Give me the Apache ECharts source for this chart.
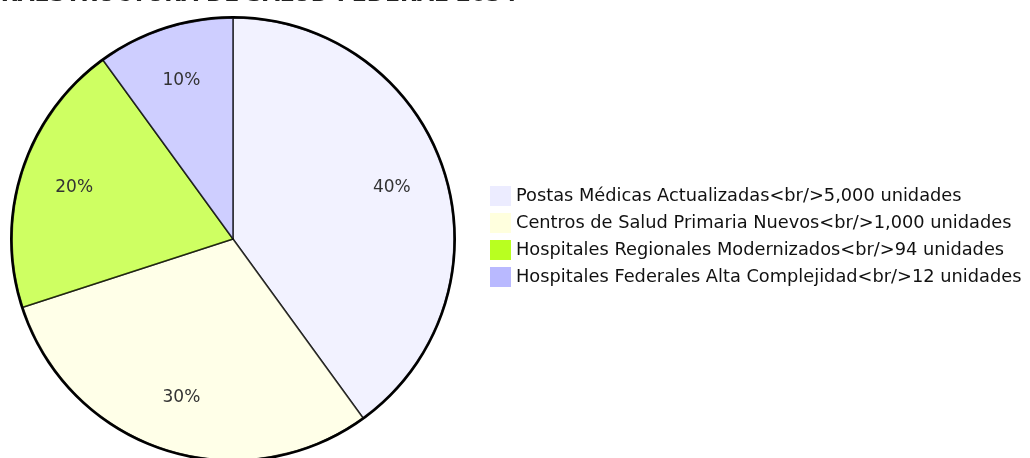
<!DOCTYPE html>
<html>
<head>
<meta charset="utf-8">
<style>
  html, body { margin: 0; padding: 0; background: #fff; }
  #main { width: 1030px; height: 458px; }
</style>
<script src="https://cdn.jsdelivr.net/npm/echarts@6/dist/echarts.min.js"></script>
</head>
<body>
<div id="main"></div>
<script>
// categorias y porcentajes
var categorias = [
  'Postas Médicas Actualizadas<br/>5,000 unidades',
  'Centros de Salud Primaria Nuevos<br/>1,000 unidades',
  'Hospitales Regionales Modernizados<br/>94 unidades',
  'Hospitales Federales Alta Complejidad<br/>12 unidades'
]
var porcentajes = [40, 30, 20, 10]
var colores = ['#ECECFF', '#FFFFDE', '#B9FF20', '#B9B9FF']

var chart = echarts.init(document.getElementById('main'))

var datos = categorias.map(function (c, i) {
  return { name: c, value: porcentajes[i] }
})

var option = {
  animation: false,
  color: colores,
  title: {
    text: 'INFRAESTRUCTURA DE SALUD FEDERAL 2034',
    left: -46,
    top: -21,
    textStyle: {
      fontFamily: 'DejaVu Sans',
      fontSize: 22,
      fontWeight: 'bold',
      color: '#222'
    }
  },
  legend: {
    orient: 'vertical',
    left: 490,
    top: 186,
    padding: 0,
    icon: 'rect',
    itemWidth: 21,
    itemHeight: 20,
    itemGap: 7,
    selectedMode: false,
    data: categorias,
    itemStyle: { borderWidth: 0, opacity: 1 },
    textStyle: {
      fontFamily: 'DejaVu Sans',
      fontSize: 17.8,
      lineHeight: 20,
      color: '#111'
    }
  },
  series: [
    {
      type: 'pie',
      center: [233, 239],
      radius: [0, 221],
      startAngle: 90,
      clockwise: true,
      silent: true,
      data: datos,
      itemStyle: {
        opacity: 0.7,
        borderColor: '#000',
        borderWidth: 1.5
      },
      label: { show: false },
      labelLine: { show: false }
    },
    {
      // etiquetas a 3/4 del radio
      type: 'pie',
      center: [233, 239],
      radius: [106, 222],
      startAngle: 90,
      clockwise: true,
      silent: true,
      legendHoverLink: false,
      data: datos,
      itemStyle: {
        color: 'rgba(0,0,0,0)',
        borderWidth: 0
      },
      label: {
        show: true,
        position: 'inside',
        formatter: '{c}%',
        fontFamily: 'DejaVu Sans',
        fontSize: 17,
        color: '#333'
      },
      labelLine: { show: false }
    },
    {
      // borde exterior mas grueso
      type: 'pie',
      center: [233, 239],
      radius: [220.5, 223],
      startAngle: 90,
      silent: true,
      data: [{ name: 'borde', value: 1 }],
      itemStyle: { color: '#000' },
      label: { show: false },
      labelLine: { show: false }
    }
  ]
}

chart.setOption(option)
</script>
</body>
</html>
